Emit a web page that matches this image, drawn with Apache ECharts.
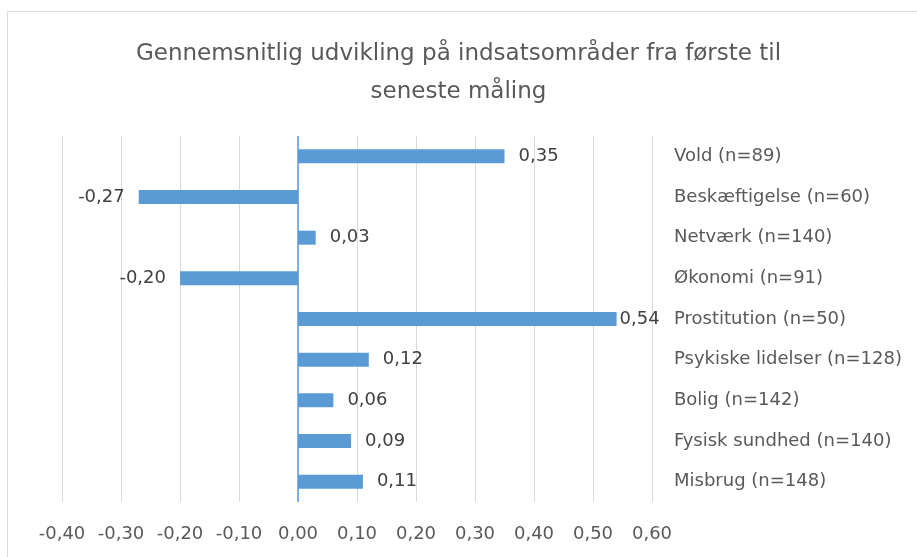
<!DOCTYPE html>
<html>
<head>
<meta charset="utf-8">
<script src="https://cdn.jsdelivr.net/npm/echarts@6/dist/echarts.min.js"></script>
<style>
html,body{margin:0;padding:0;background:#fff;}
#chart{width:917px;height:557px;}
</style>
</head>
<body>
<div id="chart"></div>
<script>
const titleText = 'Gennemsnitlig udvikling på indsatsområder fra første til\nseneste måling';
const categories = ['Vold (n=89)','Beskæftigelse (n=60)','Netværk (n=140)','Økonomi (n=91)','Prostitution (n=50)','Psykiske lidelser (n=128)','Bolig (n=142)','Fysisk sundhed (n=140)','Misbrug (n=148)'];
const values = [0.35,-0.27,0.03,-0.20,0.54,0.12,0.06,0.09,0.11];
const axisMin = -0.4, axisMax = 0.6, axisStep = 0.1;

const fmt = v => (Math.abs(v) < 1e-9 ? 0 : v).toFixed(2).replace('.', ',');
const FONT = '"DejaVu Sans"';

const data = values.map(v => ({
  value: v,
  label: {
    position: v < 0 ? 'left' : 'right',
    distance: v > axisMax - 0.1 ? 3 : 14
  }
}));

const chart = echarts.init(document.getElementById('chart'), null, {renderer:'canvas'});
chart.setOption({
  animation: false,
  backgroundColor: '#fff',
  textStyle: {fontFamily: FONT},
  title: {
    text: titleText,
    left: 'center',
    top: 30,
    textStyle: {fontFamily: FONT, fontWeight: 'normal', fontSize: 23, color: '#595959', lineHeight: 38}
  },
  graphic: [
    {type:'line', shape:{x1:7.5,y1:11.5,x2:917,y2:11.5}, style:{stroke:'#d9d9d9', lineWidth:1}, silent:true},
    {type:'line', shape:{x1:7.5,y1:11.5,x2:7.5,y2:557}, style:{stroke:'#d9d9d9', lineWidth:1}, silent:true}
  ],
  grid: {left: 62, right: 265, top: 136, bottom: 55, containLabel: false},
  xAxis: {
    type: 'value', min: axisMin, max: axisMax, interval: axisStep,
    axisLine: {show:false}, axisTick: {show:false},
    splitLine: {show:true, lineStyle:{color:'#d9d9d9', width:1}},
    axisLabel: {formatter: fmt, color:'#595959', fontSize:18, fontFamily: FONT, margin: 23}
  },
  yAxis: {
    type: 'category', data: categories, inverse: true, position: 'right',
    axisLine: {show:false}, axisTick: {show:false},
    axisLabel: {color:'#595959', fontSize:18, fontFamily: FONT, margin: 22, align:'left'}
  },
  series: [{
    type: 'bar',
    data: data,
    barWidth: 14,
    itemStyle: {color:'#5B9BD5'},
    label: {show:true, formatter: p => fmt(p.value), color:'#404040', fontSize:18, fontFamily: FONT},
    markLine: {
      silent: true, symbol: 'none',
      label: {show:false},
      lineStyle: {color:'#5B9BD5', width:1.5, type:'solid'},
      data: [{xAxis: 0}]
    }
  }]
});
</script>
</body>
</html>
